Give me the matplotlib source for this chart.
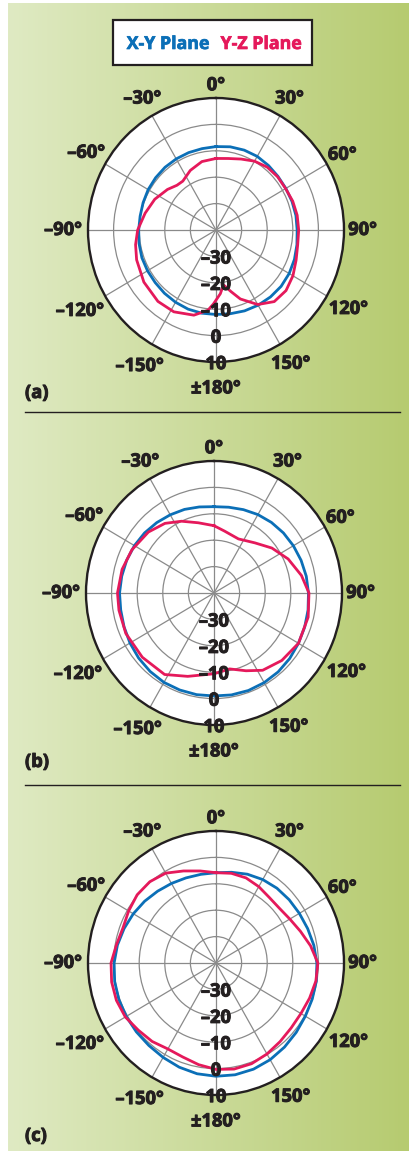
import numpy as np
import matplotlib
matplotlib.use("Agg")
import matplotlib.pyplot as plt
import matplotlib.patheffects as pe
from matplotlib.lines import Line2D
from matplotlib.patches import Rectangle

plt.rcParams['font.family'] = ['Open Sans', 'DejaVu Sans']

W, H = 409, 1151
BLUE = "#0b6fb7"
RED = "#e5195b"
INK = "#231f20"

# ---- measured patterns (angle in degrees clockwise from top, gain in dB) ----
ANG10 = np.arange(0, 360, 10)

# (a)
a_xy = [-8.4, -8.0, -7.8, -7.8, -8.1, -8.4, -8.5, -8.4, -8.3, -8.3, -7.9, -7.4,
        -7.0, -6.8, -6.9, -7.1, -7.4, -7.8, -8.0, -8.0, -8.1, -8.4, -8.7, -9.0,
        -9.1, -9.2, -9.5, -9.8, -9.9, -9.7, -9.4, -9.2, -9.0, -8.9, -8.8, -8.7]
a_yz_ang = [0, 10, 20, 30, 40, 50, 60, 70, 80, 90, 100, 110, 120, 130, 140, 150,
            160, 166, 172, 176, 182, 186, 195, 208, 220, 235, 250, 260, 270, 283,
            296, 309, 318, 325, 336, 348]
a_yz = [-12.9, -12.5, -11.4, -9.9, -8.9, -8.6, -8.6, -8.1, -7.8, -7.7, -7.6, -6.7,
        -5.3, -4.3, -4.6, -7.4, -12.2, -16.0, -19.0, -15.8, -12.0, -9.4, -6.6,
        -4.9, -4.7, -5.6, -7.0, -8.1, -9.4, -11.6, -13.4, -15.6, -17.2, -17.4,
        -15.3, -13.5]

# (b)
b_xy = [-7.3, -7.0, -6.4, -5.7, -5.1, -4.6, -4.2, -3.8, -3.4, -3.1, -2.7, -2.3,
        -1.9, -1.4, -1.0, -0.8, -0.7, -0.8, -1.0, -0.9, -0.9, -0.9, -1.2, -1.6,
        -2.1, -2.6, -3.0, -3.1, -3.4, -3.7, -4.1, -4.6, -5.2, -5.8, -6.3, -6.9]
b_yz_ang = [0, 10, 25, 40, 53, 66, 79, 90, 104, 120, 134, 147, 157, 168, 180,
            198, 212, 229, 246, 260, 270, 284, 297, 312, 324, 335, 347]
b_yz = [-14.5, -16.2, -17.4, -15.2, -11.7, -8.3, -5.2, -2.9, -2.1, -1.9, -3.2,
        -5.1, -8.0, -10.6, -9.4, -6.8, -3.6, -2.9, -2.3, -2.3, -2.3, -3.0, -4.0,
        -5.5, -7.4, -10.0, -12.7]

# (c)
c_xy = [-5.8, -5.1, -4.2, -3.5, -3.0, -2.7, -2.4, -1.9, -1.2, -0.6, -0.2, 0.0,
        0.3, 0.9, 1.6, 2.3, 2.8, 3.0, 2.9, 2.6, 2.0, 1.3, 0.8, 0.6, 0.5, 0.4,
        0.2, -0.2, -0.9, -1.8, -2.7, -3.6, -4.5, -5.2, -5.7, -5.9]
c_yz = [-5.8, -5.5, -5.7, -6.6, -7.6, -7.7, -6.7, -4.9, -2.5, -0.2, -0.4, -1.1,
        -1.7, -1.7, -1.1, -0.2, 0.6, 0.8, 0.3, -0.9, -2.1, -2.4, -1.2, -0.4,
        0.9, 1.4, 1.4, 1.0, -0.5, -1.3, -0.6, 0.2, 0.2, -0.7, -2.9, -4.6]

PANELS = [
    ("(a)", ANG10, a_xy, a_yz_ang, a_yz),
    ("(b)", ANG10, b_xy, b_yz_ang, b_yz),
    ("(c)", ANG10, c_xy, ANG10, c_yz),
]

R_TICKS = [-30, -20, -10, 0, 10]
R_TICK_LABELS = ["\u201330", "\u201320", "\u201310", "0", "10"]
THETA_TICKS = [0, 30, 60, 90, 120, 150, 180, 210, 240, 270, 300, 330]
THETA_LABELS = ["0°", "30°", "60°", "90°", "120°", "150°", "±180°",
                "\u2013150°", "\u2013120°", "\u201390°", "\u201360°", "\u201330°"]
THETA_LABEL_R = [14.8, 17.5, 17.0, 17.3, 19.8, 18.5, 20.0,
                 19.5, 21.3, 19.7, 18.5, 17.5]

# pixel layout: polar centres, radii
CENTERS = [(216, 230), (214, 593), (216, 963)]
RX, RY = 128, 132
PANEL_LABEL_Y = [393, 762, 1136]
SEPARATORS_Y = [412, 785]

BOLD = dict(fontsize=13.2, fontweight="bold",
            path_effects=[pe.withStroke(linewidth=0.7, foreground=INK)])


def closed(ang, val):
    t = np.deg2rad(np.append(ang, ang[0] + 360))
    return t, np.append(val, val[0])


fig = plt.figure(figsize=(W / 100, H / 100), dpi=100)
fig.patch.set_facecolor("white")

# green gradient backdrop
bg = fig.add_axes([8 / W, 0, 1 - 8 / W, 1 - 3 / H])
left_c = np.array([223, 234, 195]) / 255
right_c = np.array([182, 203, 112]) / 255
tt = np.linspace(0, 1, 256)[None, :, None]
grad = left_c * (1 - tt) + right_c * tt
bg.imshow(grad, aspect="auto", extent=(0, 1, 0, 1))
bg.set_axis_off()

for (tag, ang_xy, xy, ang_yz, yz), (cx, cy), ly in zip(PANELS, CENTERS, PANEL_LABEL_Y):
    ax = fig.add_axes([(cx - RX) / W, 1 - (cy + RY) / H, 2 * RX / W, 2 * RY / H],
                      projection="polar")
    ax.set_aspect("auto")
    ax.set_theta_zero_location("N")
    ax.set_theta_direction(-1)
    ax.set_facecolor("white")
    ax.set_ylim(-40, 10)
    ax.set_rticks(R_TICKS[:-1])
    ax.set_yticklabels([])
    ax.set_thetagrids(THETA_TICKS, labels=[""] * len(THETA_TICKS))
    ax.grid(True, color="#8a8a8a", linewidth=0.9)
    ax.spines["polar"].set_linewidth(1.7)
    ax.spines["polar"].set_color(INK)

    t, r = closed(np.asarray(ang_xy, float), np.asarray(xy, float))
    ax.plot(t, r, color=BLUE, lw=2.0, zorder=3, solid_joinstyle="round")
    t, r = closed(np.asarray(ang_yz, float), np.asarray(yz, float))
    ax.plot(t, r, color=RED, lw=2.0, zorder=3, solid_joinstyle="round")

    for th, lab, rl in zip(THETA_TICKS, THETA_LABELS, THETA_LABEL_R):
        ax.text(np.deg2rad(th), rl, lab, ha="center", va="center",
                color=INK, clip_on=False, **BOLD)
    for v, lab in zip(R_TICKS, R_TICK_LABELS):
        ax.text(np.pi, v + 0.8, lab, ha="center", va="center",
                color=INK, zorder=5, clip_on=False, **BOLD)

    fig.text(25 / W, 1 - ly / H, tag, ha="left", va="center",
             color=INK, **BOLD)

for sy in SEPARATORS_Y:
    fig.add_artist(Line2D([25 / W, 400 / W], [1 - sy / H, 1 - sy / H],
                          color=INK, lw=1.0))

# legend box
fig.add_artist(Rectangle((113 / W, 1 - 65 / H), 199 / W, 45 / H,
                         transform=fig.transFigure, facecolor="white",
                         edgecolor=INK, lw=1.6))
fig.text(168 / W, 1 - 44 / H, "X-Y Plane", ha="center", va="center",
         fontsize=12.8, fontweight="bold", color=BLUE,
         path_effects=[pe.withStroke(linewidth=0.5, foreground=BLUE)])
fig.text(261 / W, 1 - 44 / H, "Y-Z Plane", ha="center", va="center",
         fontsize=12.8, fontweight="bold", color=RED,
         path_effects=[pe.withStroke(linewidth=0.5, foreground=RED)])

fig.savefig("out.png", dpi=100)
